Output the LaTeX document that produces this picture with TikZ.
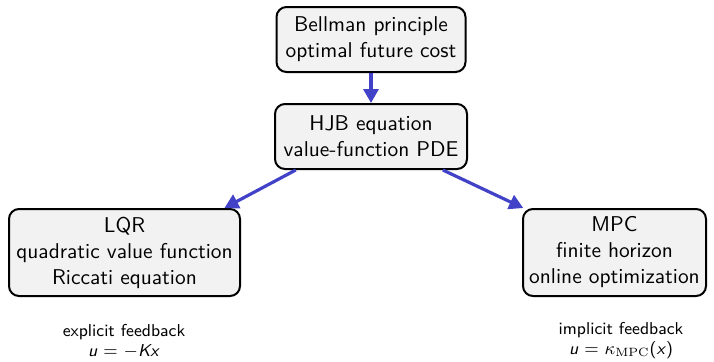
\documentclass[tikz,border=0pt]{standalone}
\usetikzlibrary{arrows.meta}
\definecolor{boxfill}{RGB}{242,242,242}
\definecolor{flowblue}{RGB}{66,66,200}
\begin{document}
\begin{tikzpicture}[x=0.5pt,y=-0.5pt,
  conceptbox/.style={draw=black, line width=1pt, rounded corners=5pt, fill=boxfill,
    align=center, inner sep=0pt, font=\sffamily\fontsize{10.7}{13}\selectfont},
  flow/.style={draw=flowblue, line width=1.6pt, -{Triangle[length=7pt,width=7.5pt]}},
  note/.style={align=center, font=\sffamily\fontsize{8.6}{10}\selectfont}]
\useasboundingbox (0,0) rectangle (714,361);
\node[conceptbox, minimum width=94.5pt, minimum height=32.5pt] (bell) at (371,39.5)
  {Bellman principle\\optimal future cost};
\node[conceptbox, minimum width=96pt, minimum height=32.5pt] (hjb) at (371,136.5)
  {HJB equation\\value-function PDE};
\node[conceptbox, minimum width=115.5pt, minimum height=43.5pt] (lqr) at (124.5,252.5)
  {LQR\\quadratic value function\\Riccati equation};
\node[conceptbox, minimum width=91.5pt, minimum height=43.5pt] (mpc) at (614.5,252.5)
  {MPC\\finite horizon\\online optimization};
\node[note] (lqrnote) at (124,341) {explicit feedback\\\textit{u} $=$ $-$\textit{Kx}};
\node[note] (mpcnote) at (621,341) {implicit feedback\\\textit{u} $=$ $\kappa_{\mathrm{MPC}}$(\textit{x})};
\draw[flow] (bell.south) -- (hjb.north);
\draw[flow] (hjb.204) -- (lqr.24);
\draw[flow] (hjb.335) -- (mpc.154);
\end{tikzpicture}
\end{document}
